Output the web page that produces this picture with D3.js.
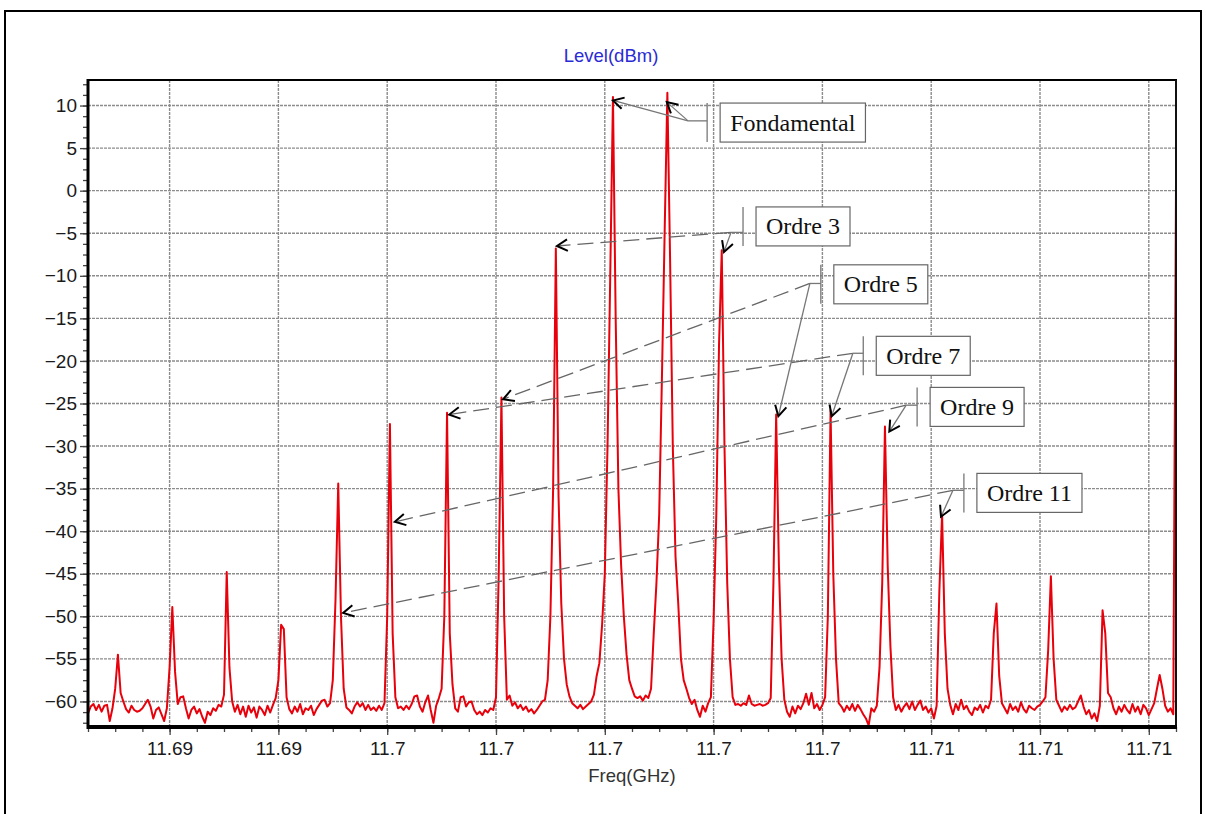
<!DOCTYPE html>
<html>
<head>
<meta charset="utf-8">
<script src="https://cdn.jsdelivr.net/npm/d3@7"></script>
<style>
  body { margin: 0; background: #fff; }
  svg { display: block; }
</style>
</head>
<body>
<div id="chart"></div>
<script>
// Sweep: 401 points, 50 kHz apart, 11.6905 -> 11.7105 GHz
const freqStart = 11.6905;
const freqStep = 0.00005;

// Level(dBm), one value per sweep point
const level = [
  -61.4, -60.6, -60.3, -61.0, -60.4, -61.2, -60.5, -60.4, -62.3, -60.8,
  -58.5, -54.5, -59.0, -60.0,
  -60.9, -61.3, -60.5, -61.0, -61.2, -61.1, -60.8, -60.3, -59.8, -60.6, -62.0, -61.0, -60.7, -61.5, -62.3, -60.8,
  -56.0, -48.9, -56.5, -60.3,
  -59.5, -59.4, -60.8, -62.0, -61.0, -60.6, -61.4, -60.9, -61.8, -62.5, -61.2, -61.6, -60.8, -61.1, -60.4, -60.6,
  -59.2, -44.8, -56.0, -60.0,
  -61.2, -60.4, -61.5, -60.6, -61.8, -60.5, -61.3, -60.7, -61.9, -60.6, -61.0, -61.6, -60.5, -61.3, -60.4, -59.6,
  -57.5, -51.0, -51.5, -59.5,
  -60.9, -61.4, -60.6, -61.2, -60.3, -61.5, -60.8, -61.0, -60.5, -61.6, -60.9, -60.4, -59.9, -59.8, -60.6, -60.2,
  -57.5, -48.0, -34.4, -50.0, -58.5, -60.7,
  -61.0, -61.4, -60.6, -60.1, -60.6, -60.2, -61.0, -60.4, -61.0, -60.7, -61.1, -60.5, -61.0, -60.2,
  -50.0, -27.4, -52.0, -59.5,
  -60.8, -60.6, -61.0, -60.5, -60.9, -60.3, -59.4, -59.3, -60.6, -61.2, -60.1, -59.3, -61.0, -62.5, -60.5, -59.6, -58.5,
  -50.0, -26.1, -52.0, -58.0, -60.8,
  -61.2, -59.5, -59.4, -60.6, -60.1, -60.0, -61.0, -61.5, -61.2, -61.6, -61.0, -61.3, -60.8, -61.0, -59.5,
  -45.0, -24.3, -50.0,
  -59.8, -59.3, -60.5, -60.1, -60.8, -60.4, -61.0, -60.6, -61.2, -60.9, -61.4, -61.0, -60.5, -60.0,
  -59.8, -57.5, -50.0, -35.0, -6.8, -36.0, -48.5, -55.0, -58.0, -59.4, -60.2,
  -60.5, -60.8, -60.4, -60.9, -60.6, -60.3, -60.0, -59.2,
  -57.0, -55.5, -51.0, -45.0, -30.0, -10.0, 11.0, -15.0, -35.0, -44.0, -50.0, -54.5, -57.5, -58.5, -59.4,
  -59.6, -59.4, -59.9, -59.3, -59.6, -58.5,
  -52.0, -46.0, -38.0, -22.0, -5.0, 11.5, -8.0, -30.0, -43.0, -48.5, -55.0, -57.5,
  -58.5, -59.6, -60.3, -59.8, -61.0, -61.8, -60.5, -61.2, -60.2, -59.5,
  -50.5, -38.0, -18.0, -7.0, -30.0, -46.0, -55.0, -59.5,
  -60.4, -60.3, -60.5, -60.2, -60.4, -59.3, -60.3, -60.5, -60.4, -60.3, -60.5, -60.4, -60.2, -59.6,
  -46.0, -26.3, -44.0, -55.0, -59.8,
  -61.2, -61.8, -60.6, -61.4, -60.5, -60.9, -60.2, -59.1, -60.4, -59.0, -60.8, -60.3, -61.0, -60.4,
  -59.5, -50.0, -25.8, -45.0, -55.0, -60.2,
  -60.6, -61.2, -60.5, -61.0, -60.3, -61.1, -60.4, -60.9, -61.5, -62.0, -62.8, -60.8, -61.2, -60.5,
  -56.0, -46.0, -27.7, -44.0, -53.5, -59.5, -61.0,
  -60.4, -61.2, -60.6, -60.2, -60.9, -60.0, -61.0, -60.4, -59.9, -61.0, -60.6, -61.3, -60.8, -62.0, -60.5,
  -47.0, -38.0, -52.0, -58.5,
  -60.4, -61.5, -60.3, -61.0, -59.8, -60.9, -60.5, -61.2, -61.6, -60.7, -61.0, -60.4, -61.3, -60.5, -60.8, -59.8,
  -52.0, -48.5, -57.0, -60.2,
  -60.8, -61.4, -60.3, -61.0, -60.6, -61.2, -60.1, -60.9, -61.3, -60.5, -60.8, -61.0, -60.6, -60.4, -60.0, -59.5,
  -54.0, -45.3, -55.0, -59.8,
  -60.5, -61.2, -60.6, -61.0, -60.4, -60.9, -60.7, -60.0, -59.3, -60.6, -61.5, -61.0, -62.0, -61.4, -62.3, -60.5,
  -49.3, -52.0, -59.0,
  -59.5, -60.8, -61.5, -60.6, -61.2, -60.4, -61.0, -61.4, -60.3, -61.2, -60.6, -61.5, -60.4, -60.8, -61.6, -60.9, -60.2,
  -58.5, -56.9, -58.5, -60.5,
  -61.2, -60.8, -61.5, 0.5
];

// Axis ticks as printed by the analyser (labels rounded to 2 decimals)
const xTicks = [11.692, 11.694, 11.696, 11.698, 11.700, 11.702, 11.704, 11.706, 11.708, 11.710];
const xTickLabels = ['11.69', '11.69', '11.7', '11.7', '11.7', '11.7', '11.7', '11.71', '11.71', '11.71'];
const yTicks = [10, 5, 0, -5, -10, -15, -20, -25, -30, -35, -40, -45, -50, -55, -60];

// Callouts: box (left edge freq, centre level), join point, arrow targets [freq, level, dashed]
const callouts = [
  { label: 'Fondamental', box: [11.70212, 8.0], join: [11.70153, 8.2],
    targets: [[11.70015, 10.6, false], [11.70114, 10.4, false]] },
  { label: 'Ordre 3', box: [11.70278, -4.2], join: [11.70232, -4.9],
    targets: [[11.69912, -6.5, true], [11.70219, -7.2, false]] },
  { label: 'Ordre 5', box: [11.70421, -11.0], join: [11.70377, -10.9],
    targets: [[11.69813, -24.5, true], [11.70319, -26.5, false]] },
  { label: 'Ordre 7', box: [11.70499, -19.4], join: [11.70456, -19.1],
    targets: [[11.69714, -26.3, true], [11.70417, -26.5, false]] },
  { label: 'Ordre 9', box: [11.70598, -25.4], join: [11.70554, -25.2],
    targets: [[11.69614, -38.9, true], [11.70523, -28.3, false]] },
  { label: 'Ordre 11', box: [11.70684, -35.5], join: [11.70640, -35.2],
    targets: [[11.69519, -49.6, true], [11.70618, -38.3, false]] }
];

const width = 1206, height = 814;
const plot = { left: 88, right: 1176, top: 80, bottom: 727 };
const sans = "'Liberation Sans', Arial, sans-serif";
const serif = "'Liberation Serif', 'Times New Roman', serif";

const svg = d3.select('#chart').append('svg')
    .attr('width', width)
    .attr('height', height);

// outer frame
svg.append('rect')
    .attr('x', 5).attr('y', 11)
    .attr('width', 1196).attr('height', 840)
    .attr('fill', 'none').attr('stroke', '#000').attr('stroke-width', 2);

const x = d3.scaleLinear()
    .domain([freqStart, freqStart + 400 * freqStep])
    .range([plot.left, plot.right]);

const y = d3.scaleLinear()
    .domain([-63, 13])
    .range([plot.bottom, plot.top]);

// grid
const grid = svg.append('g')
    .attr('stroke', '#8c8c8c')
    .attr('stroke-width', 1.4)
    .attr('stroke-dasharray', '3,1');
grid.selectAll('.vx').data(xTicks).enter().append('line')
    .attr('x1', d => x(d)).attr('x2', d => x(d))
    .attr('y1', plot.top).attr('y2', plot.bottom);
grid.selectAll('.hy').data(yTicks).enter().append('line')
    .attr('x1', plot.left).attr('x2', plot.right)
    .attr('y1', d => y(d)).attr('y2', d => y(d));

// axes
const xMinor = d3.range(0, 41).map(i => freqStart + i * 0.0005);
const yMinor = d3.range(-62.5, 13, 1.25);

svg.append('g')
    .attr('transform', `translate(0,${plot.bottom})`)
    .call(d3.axisBottom(x).tickValues(xMinor).tickFormat('').tickSize(5))
    .call(g => g.select('.domain').remove());

const gx = svg.append('g')
    .attr('transform', `translate(0,${plot.bottom})`)
    .call(d3.axisBottom(x).tickValues(xTicks).tickFormat((d, i) => xTickLabels[i]).tickSize(8).tickPadding(7));
gx.select('.domain').remove();

svg.append('g')
    .attr('transform', `translate(${plot.left},0)`)
    .call(d3.axisLeft(y).tickValues(yMinor).tickFormat('').tickSize(5))
    .call(g => g.select('.domain').remove());

const gy = svg.append('g')
    .attr('transform', `translate(${plot.left},0)`)
    .call(d3.axisLeft(y).tickValues(yTicks).tickSize(8).tickPadding(3));
gy.select('.domain').remove();

svg.selectAll('.tick line').attr('stroke', '#444').attr('stroke-width', 1.3);
svg.selectAll('.tick text')
    .attr('font-family', sans)
    .attr('font-size', 19)
    .attr('fill', '#1a1a1a');

// trace
const line = d3.line()
    .x((d, i) => x(freqStart + i * freqStep))
    .y(d => y(d));

svg.append('path')
    .datum(level)
    .attr('d', line)
    .attr('fill', 'none')
    .attr('stroke', '#e8000b')
    .attr('stroke-width', 2)
    .attr('stroke-linejoin', 'round');

// plot frame
svg.append('line').attr('x1', plot.left).attr('x2', plot.right + 1).attr('y1', plot.top).attr('y2', plot.top)
    .attr('stroke', '#000').attr('stroke-width', 2);
svg.append('line').attr('x1', plot.right).attr('x2', plot.right).attr('y1', plot.top).attr('y2', plot.bottom)
    .attr('stroke', '#111').attr('stroke-width', 2);
svg.append('line').attr('x1', plot.left).attr('x2', plot.left).attr('y1', plot.top - 1).attr('y2', plot.bottom + 2)
    .attr('stroke', '#000').attr('stroke-width', 3);
svg.append('line').attr('x1', plot.left - 1).attr('x2', plot.right + 1).attr('y1', plot.bottom).attr('y2', plot.bottom)
    .attr('stroke', '#000').attr('stroke-width', 4);

// titles
svg.append('text')
    .attr('x', 611).attr('y', 62)
    .attr('text-anchor', 'middle')
    .attr('font-family', sans).attr('font-size', 18.5)
    .attr('fill', '#2b2bd6')
    .text('Level(dBm)');

svg.append('text')
    .attr('x', (plot.left + plot.right) / 2).attr('y', 782)
    .attr('text-anchor', 'middle')
    .attr('font-family', sans).attr('font-size', 18.5)
    .attr('fill', '#333')
    .text('Freq(GHz)');

// callouts
function chevron(tx, ty, fx, fy) {
    const a = Math.atan2(fy - ty, fx - tx), len = 12, spread = 0.5;
    const p1 = [tx + len * Math.cos(a + spread), ty + len * Math.sin(a + spread)];
    const p2 = [tx + len * Math.cos(a - spread), ty + len * Math.sin(a - spread)];
    return `M${p1[0]},${p1[1]}L${tx},${ty}L${p2[0]},${p2[1]}`;
}

const notes = svg.append('g');
callouts.forEach(c => {
    const g = notes.append('g');
    const bx = x(c.box[0]), by = y(c.box[1]);
    const jx = x(c.join[0]), jy = y(c.join[1]);

    const txt = g.append('text')
        .attr('font-family', serif).attr('font-size', 24)
        .attr('fill', '#111')
        .text(c.label);
    const w = txt.node().getComputedTextLength();
    const boxW = w + 20, boxH = 39;
    txt.attr('x', bx + 10).attr('y', by + 8);

    g.insert('rect', 'text')
        .attr('x', bx).attr('y', by - boxH / 2)
        .attr('width', boxW).attr('height', boxH)
        .attr('fill', '#fff').attr('stroke', '#666').attr('stroke-width', 1.2);

    // bracket + stub to join point
    g.append('line')
        .attr('x1', bx - 13).attr('x2', bx - 13)
        .attr('y1', by - boxH / 2).attr('y2', by + boxH / 2)
        .attr('stroke', '#777').attr('stroke-width', 1.3);
    g.append('line')
        .attr('x1', jx).attr('x2', bx - 13)
        .attr('y1', jy).attr('y2', jy)
        .attr('stroke', '#777').attr('stroke-width', 1.3);

    c.targets.forEach(t => {
        const tx = x(t[0]), ty = y(t[1]);
        g.append('line')
            .attr('x1', jx).attr('y1', jy)
            .attr('x2', tx).attr('y2', ty)
            .attr('stroke', t[2] ? '#666' : '#777')
            .attr('stroke-width', 1.3)
            .attr('stroke-dasharray', t[2] ? '16,7' : null);
        g.append('path')
            .attr('d', chevron(tx, ty, jx, jy))
            .attr('fill', 'none')
            .attr('stroke', '#000')
            .attr('stroke-width', 2);
    });
});
</script>
</body>
</html>
